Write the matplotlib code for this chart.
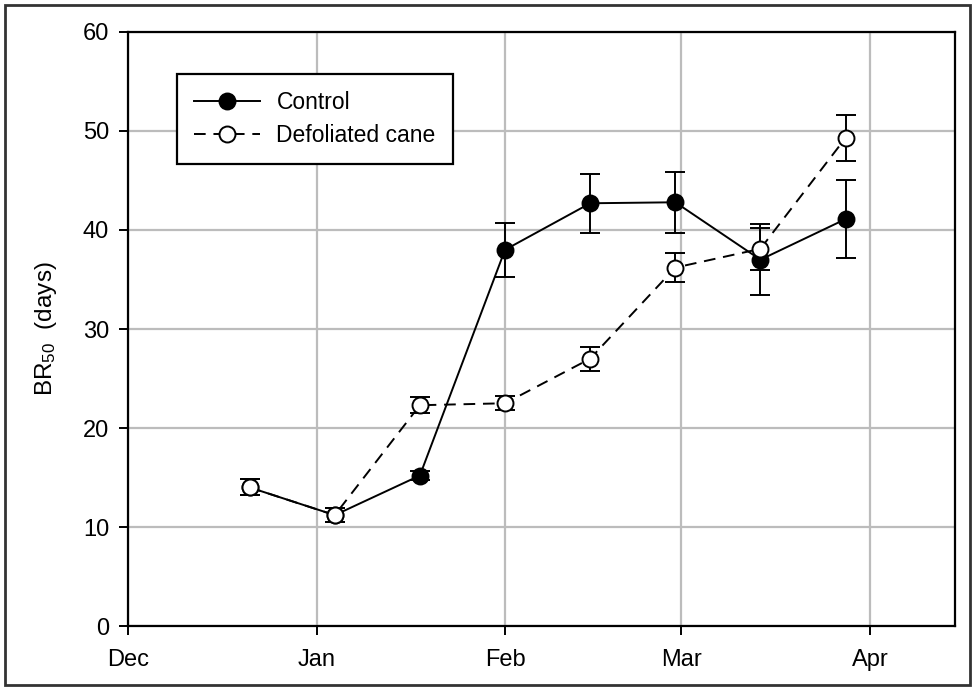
import datetime as dt

import matplotlib
matplotlib.use("Agg")
import matplotlib.pyplot as plt
from matplotlib.patches import Rectangle

plt.rcParams["font.family"] = ["Liberation Sans", "DejaVu Sans"]
plt.rcParams["mathtext.fontset"] = "custom"
plt.rcParams["mathtext.rm"] = "Liberation Sans"
plt.rcParams["mathtext.default"] = "regular"

# sampling dates (Dec 2011 - Mar 2012)
dates = ["2011-12-21", "2012-01-04", "2012-01-18", "2012-02-01",
         "2012-02-15", "2012-02-29", "2012-03-14", "2012-03-28"]

control = [14.0, 11.2, 15.2, 38.0, 42.7, 42.8, 37.0, 41.1]
control_err = [0.8, 0.7, 0.5, 2.7, 3.0, 3.1, 3.6, 3.9]

defoliated = [14.0, 11.2, 22.3, 22.5, 27.0, 36.2, 38.1, 49.3]
defoliated_err = [0.8, 0.7, 0.8, 0.7, 1.2, 1.5, 2.1, 2.3]

month_ticks = ["2011-12-01", "2012-01-01", "2012-02-01", "2012-03-01", "2012-04-01"]
month_labels = ["Dec", "Jan", "Feb", "Mar", "Apr"]

x = [dt.datetime.strptime(d, "%Y-%m-%d") for d in dates]
xt = [dt.datetime.strptime(d, "%Y-%m-%d") for d in month_ticks]

fig = plt.figure(figsize=(9.77, 6.88), dpi=100)
ax = fig.add_axes([0.131, 0.0901, 0.8465, 0.8634])

line_kw = dict(color="black", lw=1.4, capsize=7, capthick=1.4, elinewidth=1.4,
               markersize=11.5, markeredgewidth=1.4, markeredgecolor="black")

c = ax.errorbar(x, control, yerr=control_err, fmt="-o", markerfacecolor="black",
                label="Control", zorder=3, **line_kw)
d = ax.errorbar(x, defoliated, yerr=defoliated_err, fmt="o", linestyle=(0, (6, 4)),
                markerfacecolor="white", label="Defoliated cane", zorder=4, **line_kw)

ax.set_xlim(dt.datetime(2011, 12, 1), dt.datetime(2012, 4, 15))
ax.set_ylim(0, 60)
ax.set_yticks(range(0, 61, 10))
ax.set_xticks(xt)
ax.set_xticklabels(month_labels)

ax.grid(True, color="#bcbcbc", lw=1.6)
ax.set_axisbelow(True)
for s in ax.spines.values():
    s.set_linewidth(1.6)
    s.set_color("black")
ax.tick_params(direction="out", length=6.5, width=1.4, labelsize=17, pad=7)
ax.tick_params(axis="x", pad=10)

ax.set_ylabel("BR$_{50}$  (days)", fontsize=17.5, labelpad=17)

leg = ax.legend(handles=[c.lines[0], d.lines[0]], labels=["Control", "Defoliated cane"],
                loc="upper left", bbox_to_anchor=(0.059, 0.93), fontsize=16.5,
                fancybox=False, framealpha=1, edgecolor="black", borderpad=0.75,
                handlelength=2.9, handletextpad=0.7, labelspacing=0.45,
                borderaxespad=0)
leg.get_frame().set_linewidth(1.6)

fig.patches.append(Rectangle((0.005, 0.004), 0.988, 0.989, transform=fig.transFigure,
                             fill=False, edgecolor="#333333", lw=2))

fig.savefig("out.png", dpi=100)
